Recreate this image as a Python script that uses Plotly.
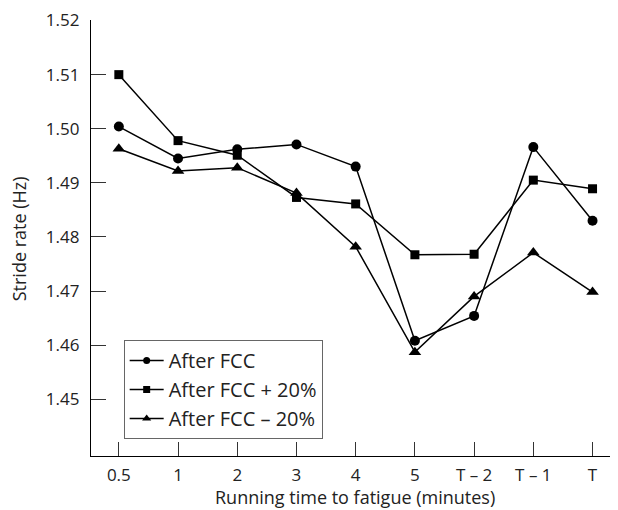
import plotly.graph_objects as go

categories = ["0.5", "1", "2", "3", "4", "5", "T \u2013 2", "T \u2013 1", "T"]
after_fcc = [1.5004, 1.4945, 1.4962, 1.4971, 1.4930, 1.4608, 1.4654, 1.4966, 1.4830]
after_fcc_plus20 = [1.5100, 1.4978, 1.4951, 1.4873, 1.4861, 1.4767, 1.4768, 1.4905, 1.4889]
after_fcc_minus20 = [1.4963, 1.4922, 1.4928, 1.4881, 1.4782, 1.4587, 1.4690, 1.4771, 1.4698]
y_ticks = [1.45, 1.46, 1.47, 1.48, 1.49, 1.50, 1.51, 1.52]

FONT = "Open Sans"
TXT = "#222222"

fig = go.Figure()
series = [
    ("After FCC", after_fcc, "circle", 10, 7),
    ("After FCC + 20%", after_fcc_plus20, "square", 9, 7),
    ("After FCC \u2013 20%", after_fcc_minus20, "triangle-up", 11, 8),
]
for name, vals, sym, sz, lsz in series:
    fig.add_trace(go.Scatter(
        x=list(range(len(categories))), y=vals, name=name, mode="lines+markers",
        line=dict(color="black", width=1.5),
        marker=dict(symbol=sym, size=sz, color="black"),
        showlegend=False,
    ))
    # legend entry with the smaller legend glyph
    fig.add_trace(go.Scatter(
        x=[None], y=[None], name=name, mode="lines+markers",
        line=dict(color="black", width=1.5),
        marker=dict(symbol=sym, size=lsz, color="black"),
        showlegend=True, hoverinfo="skip",
    ))

# page body has an 8px margin, so the figure is sized 610x502
fig.update_layout(
    width=610, height=502,
    margin=dict(l=83, r=0, t=12, b=54, autoexpand=False),
    plot_bgcolor="white", paper_bgcolor="white",
    font=dict(family=FONT, size=17, color=TXT),
    showlegend=True,
    legend=dict(
        x=0.062, y=0.266, xanchor="left", yanchor="top",
        bordercolor="#666666", borderwidth=1, bgcolor="white",
        font=dict(family=FONT, size=20, color=TXT),
        itemwidth=34, tracegroupgap=0,
    ),
    annotations=[
        dict(text="Running time to fatigue (minutes)", xref="paper", yref="paper",
             x=0.5, y=-0.094, xanchor="center", yanchor="middle", showarrow=False,
             font=dict(family=FONT, size=18, color=TXT)),
        dict(text="Stride rate (Hz)", xref="paper", yref="paper",
             x=-0.135, y=0.499, xanchor="center", yanchor="middle", showarrow=False,
             textangle=-90, font=dict(family=FONT, size=18, color=TXT)),
    ],
)
fig.update_xaxes(
    range=[-0.47, 8.43], automargin=False,
    tickmode="array", tickvals=list(range(len(categories))), ticktext=categories,
    ticks="inside", ticklen=14, tickcolor="#333333", tickwidth=1,
    showline=True, linecolor="black", linewidth=1.2,
    showgrid=False, zeroline=False,
    ticklabelstandoff=3,
)
fig.update_yaxes(
    range=[1.4395, 1.5201], automargin=False,
    tickmode="array", tickvals=y_ticks, ticktext=[f"{v:.2f}" for v in y_ticks],
    ticks="inside", ticklen=15, tickcolor="#333333", tickwidth=1,
    showline=True, linecolor="black", linewidth=1.2,
    showgrid=False, zeroline=False,
    ticklabelstandoff=7,
)

fig.write_html("out.html")
